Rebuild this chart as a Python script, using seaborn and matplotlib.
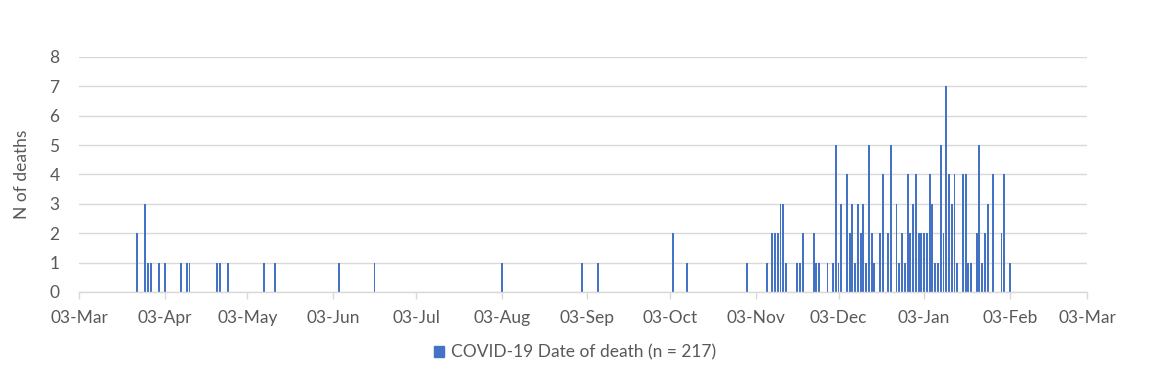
import matplotlib
matplotlib.use("Agg")
import matplotlib.dates as mdates
import matplotlib.pyplot as plt
import pandas as pd
import seaborn as sns
from matplotlib.patches import Patch

# deaths per day
death_dates = [
    "2020-03-24", "2020-03-27", "2020-03-28", "2020-03-29", "2020-04-01", "2020-04-03",
    "2020-04-09", "2020-04-11", "2020-04-12", "2020-04-22", "2020-04-23", "2020-04-26",
    "2020-05-09", "2020-05-13", "2020-06-05", "2020-06-18", "2020-08-03", "2020-09-01",
    "2020-09-07", "2020-10-04", "2020-10-09", "2020-10-31",
    "2020-11-07", "2020-11-09", "2020-11-10", "2020-11-11", "2020-11-12", "2020-11-13",
    "2020-11-14", "2020-11-18", "2020-11-19", "2020-11-20", "2020-11-24", "2020-11-25",
    "2020-11-26", "2020-11-29",
    "2020-12-01", "2020-12-02", "2020-12-03", "2020-12-04", "2020-12-06", "2020-12-07",
    "2020-12-08", "2020-12-09", "2020-12-10", "2020-12-11", "2020-12-12", "2020-12-13",
    "2020-12-14", "2020-12-15", "2020-12-16", "2020-12-18", "2020-12-19", "2020-12-21",
    "2020-12-22", "2020-12-24", "2020-12-25", "2020-12-26", "2020-12-27", "2020-12-28",
    "2020-12-29", "2020-12-30", "2020-12-31",
    "2021-01-01", "2021-01-02", "2021-01-03", "2021-01-04", "2021-01-05", "2021-01-06",
    "2021-01-07", "2021-01-08", "2021-01-09", "2021-01-10", "2021-01-11", "2021-01-12",
    "2021-01-13", "2021-01-14", "2021-01-15", "2021-01-17", "2021-01-18", "2021-01-19",
    "2021-01-20", "2021-01-22", "2021-01-23", "2021-01-24", "2021-01-25", "2021-01-26",
    "2021-01-28", "2021-01-31", "2021-02-01", "2021-02-03",
]
deaths = [
    2, 3, 1, 1, 1, 1,
    1, 1, 1, 1, 1, 1,
    1, 1, 1, 1, 1, 1,
    1, 2, 1, 1,
    1, 2, 2, 2, 3, 3,
    1, 1, 1, 2, 2, 1,
    1, 1,
    1, 5, 1, 3, 4, 2,
    3, 1, 3, 2, 3, 1,
    5, 2, 1, 2, 4, 2,
    5, 3, 1, 2, 1, 4,
    2, 3, 4,
    2, 2, 2, 2, 4, 3,
    1, 1, 5, 2, 7, 4,
    3, 4, 1, 4, 4, 1,
    1, 2, 5, 1, 2, 3,
    4, 2, 4, 1,
]
series_label = "COVID-19 Date of death (n = 217)"
y_label = "N of deaths"
axis_start, axis_end = "2020-03-03", "2021-03-03"

bar_color = "#4472C4"
text_color = "#595959"
grid_color = "#D9D9D9"

sns.set_theme(style="white")
plt.rcParams["font.family"] = ["Lato", "DejaVu Sans"]

df = pd.DataFrame({"date": pd.to_datetime(death_dates), "deaths": deaths})
df["day"] = mdates.date2num(df["date"])

fig = plt.figure(figsize=(11.5, 3.7), dpi=100)
ax = fig.add_axes([0.0687, 0.211, 0.8766, 0.635])

sns.histplot(
    data=df,
    x="day",
    weights="deaths",
    discrete=True,
    shrink=0.7,
    color=bar_color,
    alpha=1,
    linewidth=0,
    ax=ax,
)

month_ticks = pd.date_range(axis_start, axis_end, freq=pd.DateOffset(months=1))
ax.set_xticks(mdates.date2num(month_ticks))
ax.set_xticklabels([d.strftime("%d-%b") for d in month_ticks])
ax.set_xlim(mdates.date2num(pd.Timestamp(axis_start)), mdates.date2num(pd.Timestamp(axis_end)))

ax.set_ylim(0, 8)
ax.set_yticks(range(0, 9))
ax.yaxis.grid(True, color=grid_color, linewidth=1)
ax.set_axisbelow(True)

for side in ["top", "right", "left"]:
    ax.spines[side].set_visible(False)
ax.spines["bottom"].set_color(grid_color)
ax.spines["bottom"].set_linewidth(1)

ax.tick_params(axis="x", colors=grid_color, labelcolor=text_color, labelsize=12.5,
               length=5, width=1, direction="out", bottom=True, pad=8)
ax.tick_params(axis="y", labelcolor=text_color, labelsize=12.5, length=0, pad=14)

ax.set_xlabel("")
ax.set_ylabel(y_label, color=text_color, fontsize=12.5, labelpad=14)

handle = Patch(facecolor=bar_color, edgecolor=bar_color)
fig.legend([handle], [series_label], loc="center", bbox_to_anchor=(0.5, 0.048),
           frameon=False, fontsize=12.5, labelcolor=text_color,
           handlelength=0.6, handleheight=0.6, handletextpad=0.4)

fig.savefig("out.png", dpi=100, facecolor="white")
